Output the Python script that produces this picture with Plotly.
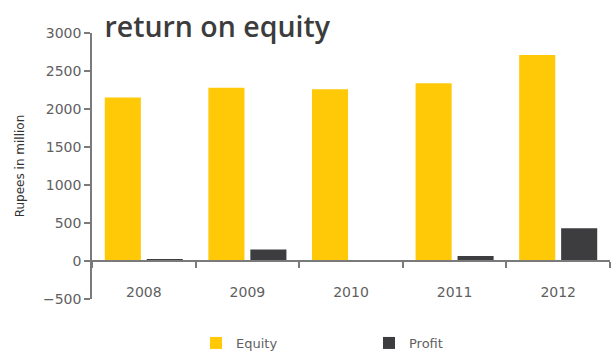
import plotly.graph_objects as go

# Financial years shown on the category axis
years = ["2008", "2009", "2010", "2011", "2012"]

# Rupees in million
equity = [2150, 2280, 2260, 2340, 2710]
profit = [15, 150, 10, 65, 430]

y_ticks = [-500, 0, 500, 1000, 1500, 2000, 2500, 3000]

EQUITY_COLOR = "#FFC907"
PROFIT_COLOR = "#3D3D3F"
AXIS_COLOR = "#7a7a7a"
TEXT_COLOR = "#5f5f5f"

W, H = 612, 351
M_L, M_R, M_T, M_B = 92, 2, 33, 52
Y_MIN, Y_MAX = -500, 3000

fig = go.Figure()
fig.add_trace(go.Bar(name="Equity", x=years, y=equity, marker=dict(color=EQUITY_COLOR, line=dict(width=0))))
fig.add_trace(go.Bar(name="Profit", x=years, y=profit, marker=dict(color=PROFIT_COLOR, line=dict(width=0))))

# fraction of the plot height where the value 0 sits, so the category axis crosses there
zero_pos = (0 - Y_MIN) / (Y_MAX - Y_MIN)

fig.update_layout(
    width=W, height=H,
    margin=dict(l=M_L, r=M_R, t=M_T, b=M_B, autoexpand=False),
    paper_bgcolor="white", plot_bgcolor="white",
    barmode="group", bargap=0.19, bargroupgap=0.14,
    font=dict(family="DejaVu Sans", color=TEXT_COLOR, size=12),
    title=dict(
        text="return on equity",
        font=dict(family="Open Sans", size=28.5, color="#3c3c3c", weight=600),
        xref="paper", x=0.024, xanchor="left",
        yref="container", y=1 - 27 / H, yanchor="middle",
    ),
    xaxis=dict(
        type="category", categoryorder="array", categoryarray=years,
        anchor="free", position=zero_pos,
        showline=True, linecolor=AXIS_COLOR, linewidth=1.5,
        ticks="outside", tickson="boundaries", ticklen=6, tickcolor=AXIS_COLOR, tickwidth=1.5,
        ticklabelstandoff=18,
        tickfont=dict(size=14, color=TEXT_COLOR),
        showgrid=False, zeroline=False, automargin=False,
    ),
    yaxis=dict(
        range=[Y_MIN, Y_MAX], tickvals=y_ticks,
        showline=True, linecolor=AXIS_COLOR, linewidth=1.5,
        ticks="outside", ticklen=6, tickcolor=AXIS_COLOR, tickwidth=1.5,
        tickfont=dict(size=14, color=TEXT_COLOR),
        showgrid=False, zeroline=False, automargin=False,
        title=dict(text="Rupees in million", font=dict(size=12, color="#333333"), standoff=16),
    ),
    legend=dict(
        orientation="h",
        xref="container", x=196 / W, xanchor="left",
        yref="container", y=8 / H, yanchor="middle",
        entrywidth=128, entrywidthmode="pixels",
        font=dict(size=13, color=TEXT_COLOR),
        itemsizing="constant",
    ),
)

fig.write_html("out.html")
